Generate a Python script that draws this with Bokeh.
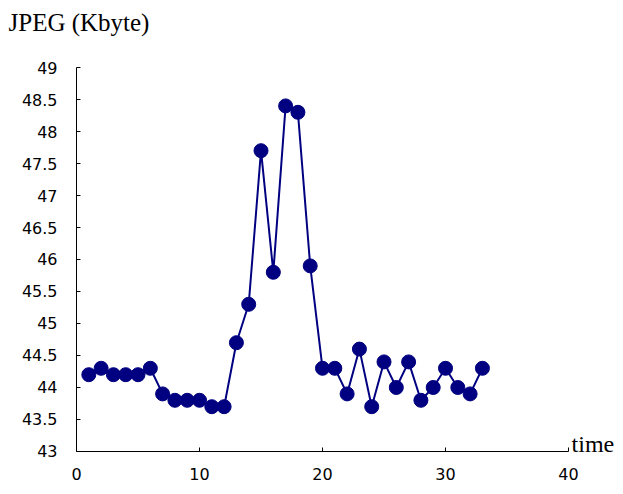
from bokeh.plotting import figure
from bokeh.models import Range1d, Label, FixedTicker
from bokeh.embed import file_html
from bokeh.resources import INLINE

time = list(range(1, 34))
jpeg_kbyte = [44.2, 44.3, 44.2, 44.2, 44.2, 44.3, 43.9, 43.8, 43.8, 43.8, 43.7, 43.7,
              44.7, 45.3, 47.7, 45.8, 48.4, 48.3, 45.9, 44.3, 44.3, 43.9, 44.6, 43.7,
              44.4, 44.0, 44.4, 43.8, 44.0, 44.3, 44.0, 43.9, 44.3]
x_ticks = [0, 10, 20, 30, 40]
y_ticks = [43, 43.5, 44, 44.5, 45, 45.5, 46, 46.5, 47, 47.5, 48, 48.5, 49]
y_title = "JPEG (Kbyte)"
x_title = "time"

p = figure(width=615, height=486, output_backend="svg", toolbar_location=None,
           x_range=Range1d(-6.18, 43.82), y_range=Range1d(42.453, 50.047),
           min_border_left=0, min_border_right=0, min_border_top=0, min_border_bottom=0)
p.outline_line_color = None
p.xgrid.visible = False
p.ygrid.visible = False
p.background_fill_color = "white"
p.border_fill_color = "white"

for ax in (p.xaxis[0], p.yaxis[0]):
    ax.axis_line_color = "black"
    ax.axis_line_width = 1
    ax.major_tick_in = 4
    ax.major_tick_out = 0
    ax.minor_tick_line_color = None
    ax.major_tick_line_color = "black"
    ax.major_label_text_font = "DejaVu Sans"
    ax.major_label_text_font_size = "16px"
    ax.major_label_text_color = "black"

p.xaxis[0].bounds = (0, 40)
p.xaxis[0].fixed_location = 43
p.yaxis[0].bounds = (43, 49)
p.yaxis[0].fixed_location = 0
p.xaxis[0].ticker = FixedTicker(ticks=x_ticks)
p.yaxis[0].ticker = FixedTicker(ticks=y_ticks)
p.xaxis[0].major_label_standoff = 17
p.yaxis[0].major_label_standoff = 19

p.line(time, jpeg_kbyte, line_color="#000080", line_width=2)
p.scatter(time, jpeg_kbyte, size=14, fill_color="#000080", line_color="#000080")

p.add_layout(Label(x=-5.53, y=49.70, text=y_title,
                   text_font="Liberation Serif", text_font_size="25px",
                   text_baseline="middle", text_align="left", text_color="black"))
p.add_layout(Label(x=40.25, y=43.12, text=x_title,
                   text_font="Liberation Serif", text_font_size="24px",
                   text_baseline="middle", text_align="left", text_color="black"))

open("out.html", "w").write(file_html(p, INLINE))
